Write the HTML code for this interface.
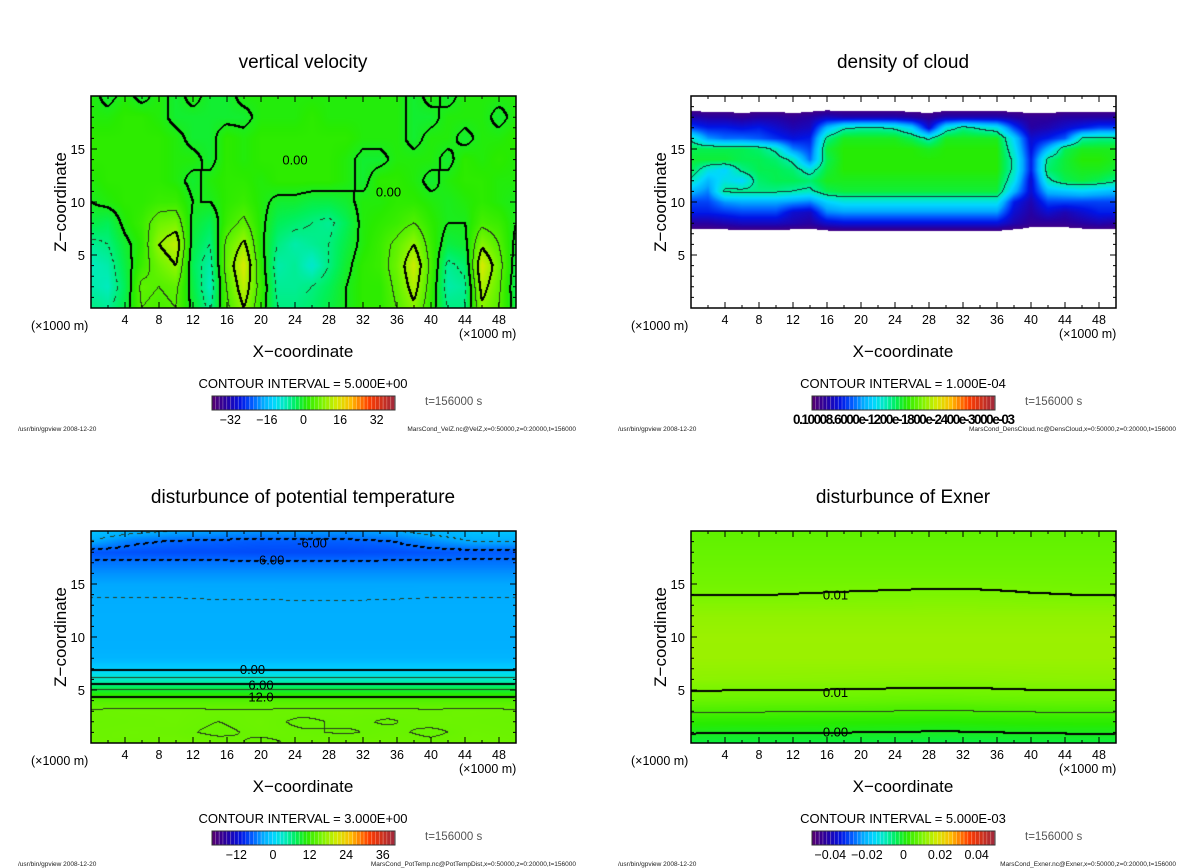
<!DOCTYPE html>
<html><head><meta charset="utf-8">
<style>
html,body{margin:0;padding:0;background:#fff;}
#root{position:relative;width:1200px;height:868px;overflow:hidden;font-family:"Liberation Sans",sans-serif;}
canvas{position:absolute;}
svg{position:absolute;left:0;top:0;}
</style></head>
<body>
<div id="root">
<canvas id="cv0"></canvas>
<canvas id="cv1"></canvas>
<canvas id="cv2"></canvas>
<canvas id="cv3"></canvas>
<svg id="ov" width="1200" height="868"></svg>
</div>
<script>
// ---- vertical velocity (x = 0..50 step 2 km, z = 0..20 step 2 km) ----
const velX = [0,2,4,6,8,10,12,14,16,18,20,22,24,26,28,30,32,34,36,38,40,42,44,46,48,50];
const velZ = [0,2,4,6,8,10,12,14,16,18,20];
const velGrid = [
[-5,-6,-2,5,4,5,-1,-6,4,10,2,-5,-5,-4,-2,0,2,2,5,9,2,-5,-5,9,5,-2],
[-7,-8,-3,6,5,6,-2,-8,5,13,3,-6,-6,-5,-3,0,2,2,6,12,3,-7,-6,12,6,-3],
[-8,-7,-2,3,7,10,-3,-7,7,15,2,-7,-6,-9,-5,-1,2,3,7,14,4,-6,-4,15,7,-2],
[-6,-5,-1,2,10,13,-2,-5,6,11,1,-5,-7,-6,-5,-2,1,3,6,10,3,-2,-1,9,5,-1],
[-2,-3,1,3,7,8,-1,-3,3,6,1,-3,-4,-5,-6,-3,1,2,3,5,2,0,0,4,3,0],
[0,1,2,2,3,3,0,0,2,3,1,-1,-1,-2,-2,-1,1,1,2,2,1,0,1,2,1,0],
[1,2,2,2,2,1,-1,1,2,2,1,2,2,2,2,1,-1,2,2,1,-1,1,2,2,1,1],
[2,2,2,2,2,1,1,-1,2,1,2,2,2,2,2,1,-1,-1,1,1,1,-1,2,1,2,1],
[2,2,2,2,2,1,-1,-1,2,1,2,2,2,2,2,2,1,1,1,-1,1,1,-1,1,1,2],
[1,1,2,2,1,-1,-1,-1,-1,-1,1,1,1,2,1,1,1,1,1,-1,-1,1,1,1,-1,1],
[1,-1,1,-1,1,-1,1,-1,-1,1,1,1,1,1,1,1,1,1,1,-1,1,-1,1,1,1,1]];
const velTicks = ["-32","-16","0","16","32"];
const velTickVals = [-32,-16,0,16,32];

// ---- cloud density (x1e-4), x step 2 km, z = 7..19 step 1 km ----
const cloudX = [0,2,4,6,8,10,12,14,16,18,20,22,24,26,28,30,32,34,36,38,40,42,44,46,48,50];
const cloudZ = [7,8,9,10,11,12,13,14,15,16,17,18,19];
const cloudGrid = [
[0,0,0,0,0,0,0,0,0,0,0,0,0,0,0,0,0,0,0,0,0,0,0,0,0,0],
[0.5,0.5,0.6,0.7,0.7,0.7,0.6,0.5,0.8,0.9,0.9,0.9,0.9,0.9,0.9,0.9,0.9,0.9,0.9,0.6,0.4,0.4,0.4,0.5,0.6,0.5],
[1.0,1.0,1.1,1.2,1.2,1.2,0.8,0.7,1.5,1.6,1.6,1.6,1.6,1.6,1.6,1.6,1.6,1.6,1.6,0.8,0.5,0.8,0.6,0.8,1.0,1.0],
[1.2,1.2,1.6,1.7,1.7,1.7,1.6,1.5,2.0,2.2,2.2,2.2,2.2,2.2,2.2,2.2,2.2,2.2,2.2,1.0,0.6,1.2,1.2,1.2,1.2,1.2],
[1.8,1.5,2.6,2.6,2.6,2.6,2.5,2.4,2.8,2.9,2.9,2.9,2.9,2.9,2.9,2.9,2.9,2.9,2.9,1.8,0.8,1.8,1.9,2.0,1.9,1.8],
[2.4,1.8,2.2,2.0,2.7,2.8,2.8,2.7,3.0,3.0,3.0,3.0,3.0,3.0,3.0,3.0,3.0,3.0,3.0,2.2,0.8,2.4,2.8,2.9,2.8,2.6],
[2.8,2.2,2.0,2.6,2.8,2.8,2.7,2.3,2.9,3.1,3.1,3.1,3.1,3.1,3.1,3.1,3.1,3.1,3.1,2.4,1.0,2.7,2.9,3.0,3.0,2.9],
[2.9,2.9,2.9,2.8,2.8,2.7,2.4,1.4,2.8,3.1,3.1,3.1,3.1,3.1,3.1,3.1,3.1,3.1,3.1,2.4,1.0,2.6,2.9,3.1,3.1,3.0],
[2.8,2.8,2.8,2.8,2.7,2.4,1.5,1.2,2.9,3.1,3.1,3.1,3.1,3.1,3.0,3.1,3.1,3.1,3.1,2.2,0.9,1.8,2.8,3.0,3.0,3.0],
[2.4,1.6,1.4,1.4,1.3,1.1,0.9,1.0,2.6,3.0,3.0,3.0,3.0,2.8,2.4,3.0,3.0,3.0,3.0,2.0,0.8,1.0,1.3,2.5,2.6,2.6],
[1.2,1.0,1.0,0.9,1.0,0.8,0.6,0.7,1.8,2.4,2.5,2.5,2.4,2.0,0.8,2.2,2.6,2.4,2.2,1.2,0.5,0.6,0.8,1.0,1.2,1.2],
[0.6,0.5,0.5,0.4,0.5,0.5,0.4,0.5,0.7,0.6,0.6,0.6,0.6,0.5,0.4,0.6,0.6,0.6,0.6,0.5,0.4,0.4,0.5,0.5,0.5,0.5],
[0,0,0,0,0,0,0,0,0,0,0,0,0,0,0,0,0,0,0,0,0,0,0,0,0,0]];

// ---- potential temperature disturbance, x step 5 km, z = 0..20 step 1 km ----
const ptX = [0,5,10,15,20,25,30,35,40,45,50];
const ptZ = [0,1,2,3,4,5,6,7,8,9,10,11,12,13,14,15,16,17,18,19,20];
const ptGrid = [
[15.3,15.2,15.4,15.3,14.8,15.2,15.4,15.3,15.2,15.4,15.3],
[15.2,15.3,15.2,14.8,15.2,15.1,14.9,15.2,14.8,15.3,15.2],
[15.1,15.2,15.3,15.0,15.3,14.8,15.2,14.9,15.3,15.2,15.1],
[15.2,15.3,15.3,15.2,15.2,15.3,15.3,15.3,15.2,15.3,15.2],
[13.8,13.8,13.8,13.8,13.8,13.8,13.8,13.8,13.8,13.8,13.8],
[9.0,9.0,9.0,9.0,9.0,9.0,9.0,9.0,9.0,9.0,9.0],
[3.5,3.5,3.5,3.5,3.5,3.5,3.5,3.5,3.5,3.5,3.5],
[-0.3,-0.3,-0.3,-0.3,-0.3,-0.3,-0.3,-0.3,-0.3,-0.3,-0.3],
[-2.3,-2.3,-2.3,-2.3,-2.3,-2.3,-2.3,-2.3,-2.3,-2.3,-2.3],
[-2.7,-2.7,-2.7,-2.7,-2.7,-2.7,-2.7,-2.7,-2.7,-2.7,-2.7],
[-2.8,-2.8,-2.8,-2.8,-2.8,-2.8,-2.8,-2.8,-2.8,-2.8,-2.8],
[-2.8,-2.8,-2.8,-2.8,-2.8,-2.8,-2.8,-2.8,-2.8,-2.8,-2.8],
[-2.8,-2.8,-2.8,-2.8,-2.8,-2.8,-2.8,-2.8,-2.8,-2.8,-2.8],
[-2.9,-2.9,-2.9,-2.9,-2.9,-2.9,-2.9,-2.9,-2.9,-2.9,-2.9],
[-3.05,-3.05,-3.05,-3.1,-3.1,-3.15,-3.15,-3.1,-3.05,-3.05,-3.05],
[-3.3,-3.3,-3.3,-3.3,-3.3,-3.3,-3.3,-3.3,-3.3,-3.3,-3.3],
[-4.3,-4.3,-4.3,-4.3,-4.3,-4.3,-4.3,-4.3,-4.3,-4.3,-4.3],
[-5.6,-5.6,-5.6,-5.6,-5.6,-5.6,-5.6,-5.6,-5.6,-5.6,-5.6],
[-7.0,-7.2,-7.4,-7.4,-7.6,-7.6,-7.6,-7.4,-7.0,-6.8,-6.8],
[-3,-5.5,-6.3,-6.5,-6.8,-6.7,-6.6,-6.2,-4.5,-3,-3],
[-1,-2,-3,-3.5,-4,-3.5,-4,-3,-2,-1,-1]];
const ptTicks = ["-12","0","12","24","36"];
const ptTickVals = [-12,0,12,24,36];

// ---- Exner disturbance, x step 5 km, z = 0..20 step 2 km ----
const exX = [0,5,10,15,20,25,30,35,40,45,50];
const exZ = [0,2,4,6,8,10,12,14,16,18,20];
const exGrid = [
[-0.002,-0.0022,-0.002,-0.0021,-0.0022,-0.0024,-0.0025,-0.0023,-0.0021,-0.002,-0.002],
[0.0025,0.0024,0.0024,0.0023,0.0022,0.0021,0.002,0.0022,0.0024,0.0025,0.0025],
[0.0085,0.0084,0.0083,0.0083,0.0082,0.008,0.0079,0.0081,0.0083,0.0084,0.0084],
[0.0118,0.0117,0.0117,0.0116,0.0115,0.0114,0.0113,0.0114,0.0116,0.0117,0.0117],
[0.013,0.013,0.013,0.013,0.013,0.013,0.013,0.013,0.013,0.013,0.013],
[0.0131,0.0131,0.0131,0.0131,0.0131,0.0131,0.0131,0.0131,0.0131,0.0131,0.0131],
[0.0122,0.0122,0.0122,0.0122,0.0122,0.0122,0.0122,0.0122,0.0122,0.0122,0.0122],
[0.01,0.01,0.01,0.0101,0.0102,0.0103,0.0104,0.0103,0.0101,0.01,0.0099],
[0.009,0.009,0.009,0.009,0.009,0.009,0.009,0.009,0.009,0.009,0.009],
[0.0082,0.0082,0.0082,0.0082,0.0082,0.0082,0.0082,0.0082,0.0082,0.0082,0.0082],
[0.0076,0.0076,0.0076,0.0076,0.0076,0.0076,0.0076,0.0076,0.0076,0.0076,0.0076]];
const exTicks = ["-0.04","-0.02","0","0.02","0.04"];
const exTickVals = [-0.04,-0.02,0,0.02,0.04];

const xTickVals = [4,8,12,16,20,24,28,32,36,40,44,48];
const yTickVals = [5,10,15];

const stops = [
[0.00,90,0,110],[0.08,40,0,160],[0.16,0,20,230],[0.22,0,90,255],[0.28,0,170,255],
[0.34,0,215,255],[0.40,0,235,190],[0.46,0,240,90],[0.52,40,235,0],[0.60,120,245,0],
[0.68,210,235,0],[0.76,255,190,0],[0.86,255,60,0],[1.00,160,40,60]];
function cmap(t){
  t=Math.max(0,Math.min(1,t));
  for(let i=1;i<stops.length;i++){
    if(t<=stops[i][0]){const a=stops[i-1],b=stops[i],f=(t-a[0])/(b[0]-a[0]);
      return [a[1]+(b[1]-a[1])*f,a[2]+(b[2]-a[2])*f,a[3]+(b[3]-a[3])*f];}
  }
  return [160,40,60];
}
function sample(xs,zs,g,x,z,clampZ){
  const nx=xs.length,nz=zs.length;
  if(!clampZ && (z<zs[0]||z>zs[nz-1])) return 0;
  let c=(x-xs[0])/(xs[nx-1]-xs[0])*(nx-1), r=(z-zs[0])/(zs[nz-1]-zs[0])*(nz-1);
  c=Math.max(0,Math.min(nx-1.0001,c)); r=Math.max(0,Math.min(nz-1.0001,r));
  const c0=Math.floor(c),r0=Math.floor(r),fc=c-c0,fr=r-r0;
  const a=g[r0][c0],b=g[r0][c0+1],d=g[r0+1][c0],e=g[r0+1][c0+1];
  return (a*(1-fc)+b*fc)*(1-fr)+(d*(1-fc)+e*fc)*fr;
}
const PL=[{x:91,y:96},{x:691,y:96},{x:91,y:531},{x:691,y:531}];
const PW=425, PH=212;
function drawField(id,p,xs,zs,g,vmin,vmax,ci,opt){
  const cv=document.getElementById(id);
  cv.width=PW;cv.height=PH;cv.style.left=p.x+'px';cv.style.top=p.y+'px';
  const ctx=cv.getContext('2d');const img=ctx.createImageData(PW,PH);const D=img.data;
  const V=new Float32Array(PW*PH);
  for(let py=0;py<PH;py++)for(let px=0;px<PW;px++){
    V[py*PW+px]=sample(xs,zs,g,(px+0.5)/PW*50,(1-(py+0.5)/PH)*20,!opt.blank);
  }
  const K=new Int32Array(PW*PH);
  for(let i=0;i<V.length;i++){
    K[i]=opt.single!==undefined?(V[i]>=opt.single?1:0):Math.floor(V[i]/ci);
    const o=i*4;
    if(opt.blank && V[i]<opt.blank){D[o]=255;D[o+1]=255;D[o+2]=255;D[o+3]=255;continue;}
    const c=cmap((V[i]-vmin)/(vmax-vmin));
    D[o]=c[0];D[o+1]=c[1];D[o+2]=c[2];D[o+3]=255;
  }
  const paint=(i,col)=>{const o=i*4;D[o]=col[0];D[o+1]=col[1];D[o+2]=col[2];};
  for(let py=0;py<PH-1;py++)for(let px=0;px<PW-1;px++){
    const i=py*PW+px;
    if(opt.blank && V[i]<opt.blank) continue;
    const k=K[i],kr=K[i+1],kd=K[i+PW];
    if(k===kr&&k===kd) continue;
    const kk=Math.max(k,k!==kr?kr:k,k!==kd?kd:k);
    if(opt.single!==undefined){paint(i,[20,60,60]);continue;}
    const level=kk*ci;
    const n=Math.round(level/ci);
    if(level<-1e-9 && (((px+py)>>2)&1)) continue;
    const thick=(Math.abs(n)%2===0);
    const col=thick?[0,0,0]:[40,60,30];
    paint(i,col);
    if(thick){paint(i+1,col);paint(i+PW,col);}
  }
  ctx.putImageData(img,0,0);
}
drawField('cv0',PL[0],velX,velZ,velGrid,-40,40,5,{});
drawField('cv1',PL[1],cloudX,cloudZ,cloudGrid,0,6.0,1,{blank:0.25,single:2.5});
drawField('cv2',PL[2],ptX,ptZ,ptGrid,-20,40,3,{});
drawField('cv3',PL[3],exX,exZ,exGrid,-0.05,0.05,0.005,{});

// ---- overlay ----
const NS='http://www.w3.org/2000/svg';
const ov=document.getElementById('ov');
function mk(tag,attrs,parent){const e=document.createElementNS(NS,tag);for(const k in attrs)e.setAttribute(k,attrs[k]);(parent||ov).appendChild(e);return e;}
function txt(s,attrs){const e=mk('text',attrs);e.textContent=s;return e;}
const xPix=(p,v)=>p.x+v/50*PW;
const yPix=(p,v)=>p.y+PH-v/20*PH;
const titles=["vertical velocity","density of cloud","disturbunce of potential temperature","disturbunce of Exner"];
const ciText=["CONTOUR INTERVAL = 5.000E+00","CONTOUR INTERVAL = 1.000E-04","CONTOUR INTERVAL = 3.000E+00","CONTOUR INTERVAL = 5.000E-03"];
const files=["MarsCond_VelZ.nc@VelZ,x=0:50000,z=0:20000,t=156000","MarsCond_DensCloud.nc@DensCloud,x=0:50000,z=0:20000,t=156000","MarsCond_PotTemp.nc@PotTempDist,x=0:50000,z=0:20000,t=156000","MarsCond_Exner.nc@Exner,x=0:50000,z=0:20000,t=156000"];
const cbRange=[[-40,40],[0,6.5],[-20,40],[-0.05,0.05]];
const cbTicks=[velTicks,null,ptTicks,exTicks];
const cbTickVals=[velTickVals,null,ptTickVals,exTickVals];
for(let k=0;k<4;k++){
  const p=PL[k];const ox=p.x-91, oy=p.y-96;
  const t=txt(titles[k],{x:ox+303,y:oy+68,'font-size':19,'text-anchor':'middle',fill:'#000'});
  
  
  const box=mk('rect',{x:p.x,y:p.y,width:PW,height:PH,fill:'none',stroke:'#000','stroke-width':1.5});
  
  
  for(let v=2;v<50;v+=2){
    const major=(v%4===0);const L=major?6:3;const X=xPix(p,v);
    const tk=mk('path',{d:`M${X},${p.y+PH}v${-L}M${X},${p.y}v${L}`,stroke:'#000','stroke-width':1});
    
    
  }
  for(let v=1;v<20;v++){
    const major=(v%5===0);const L=major?6:3;const Y=yPix(p,v);
    const tk=mk('path',{d:`M${p.x},${Y}h${L}M${p.x+PW},${Y}h${-L}`,stroke:'#000','stroke-width':1});
    
    
  }
  xTickVals.forEach(v=>{
    const e=txt(String(v),{x:xPix(p,v),y:p.y+PH+16,'font-size':12.5,'text-anchor':'middle'});
    
    
  });
  yTickVals.forEach(v=>{
    const e=txt(String(v),{x:p.x-6,y:yPix(p,v)+5,'font-size':13,'text-anchor':'end'});
    
    
  });
  let e=txt('Z\u2212coordinate',{x:0,y:0,'font-size':17,'text-anchor':'middle',transform:`translate(${ox+66},${oy+202}) rotate(-90)`});
  
  
  e=txt('X\u2212coordinate',{x:ox+303,y:oy+357,'font-size':17,'text-anchor':'middle'});
  
  
  e=txt('(\u00d71000 m)',{x:ox+31,y:oy+330,'font-size':12.5});
  
  
  e=txt('(\u00d71000 m)',{x:ox+459,y:oy+338,'font-size':12.5});
  
  
  e=txt(ciText[k],{x:ox+303,y:oy+388,'font-size':13,'text-anchor':'middle'});
  
  
  const cbx=ox+212,cby=oy+396,cbw=183,cbh=14,n=48;
  for(let i=0;i<n;i++){
    const c=cmap((i+0.5)/n);
    const r=mk('rect',{x:cbx+i*cbw/n,y:cby,width:cbw/n+0.2,height:cbh,fill:`rgb(${c[0]|0},${c[1]|0},${c[2]|0})`});
    
    
    const s=mk('rect',{x:cbx+i*cbw/n+cbw/n-0.8,y:cby,width:0.6,height:cbh,fill:'rgba(255,255,255,0.45)'});
    
    
  }
  const cbf=mk('rect',{x:cbx,y:cby,width:cbw,height:cbh,fill:'none',stroke:'#333','stroke-width':1});
  
  
  if(cbTicks[k]){
    cbTicks[k].forEach((s,i)=>{
      const v=cbTickVals[k][i];const [a,b]=cbRange[k];
      const te=txt(s.replace('-','\u2212'),{x:cbx+(v-a)/(b-a)*cbw,y:cby+28,'font-size':12.5,'text-anchor':'middle'});
      
      
    });
  } else {
    const te=txt('0.10008.6000e-1200e-1800e-2400e-3000e-03',{x:cbx+92,y:cby+28,'font-size':13.5,'text-anchor':'middle','font-weight':'bold',textLength:222});
    
    
  }
  e=txt('t=156000 s',{x:ox+425,y:oy+405,'font-size':11.5,fill:'#555'});
  
  
  e=txt('/usr/bin/gpview   2008-12-20',{x:ox+18,y:oy+431,'font-size':6.5,fill:'#222'});
  
  
  e=txt(files[k],{x:ox+576,y:oy+431,'font-size':6.5,'text-anchor':'end',fill:'#222'});
  
  
}
const labs=[
 [2,26,18.9,'-6.00'],[2,21,17.3,'-6.00'],[2,19,7.0,'0.00'],[2,20,5.5,'6.00'],[2,20,4.4,'12.0'],
 [3,17,14.0,'0.01'],[3,17,4.8,'0.01'],[3,17,1.1,'0.00'],[0,35,11,'0.00'],[0,24,14,'0.00']];
labs.forEach(l=>{
  const p=PL[l[0]];
  const e=txt(l[3],{x:xPix(p,l[1]),y:yPix(p,l[2])+5,'font-size':13,'text-anchor':'middle',fill:'#000'});
  
  
});
</script>
</body></html>
